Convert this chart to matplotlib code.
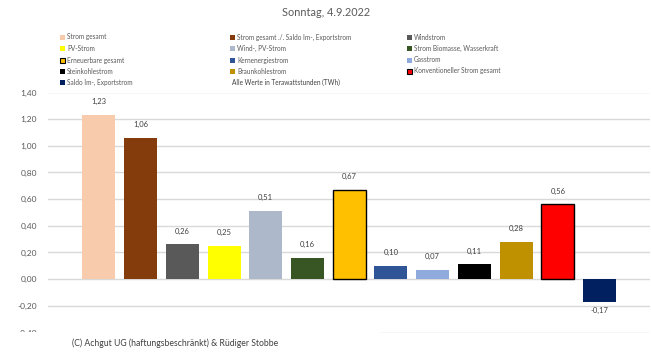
import matplotlib
matplotlib.use("Agg")
import matplotlib.pyplot as plt
from matplotlib.patches import Rectangle

plt.rcParams['font.family'] = ['Lato', 'DejaVu Sans']

categories = ["Strom gesamt", "Strom gesamt ./. Saldo Im-, Exportstrom", "Windstrom",
              "PV-Strom", "Wind-, PV-Strom", "Strom Biomasse, Wasserkraft",
              "Erneuerbare gesamt", "Kernenergiestrom", "Gasstrom",
              "Steinkohlestrom", "Braunkohlestrom", "Konventioneller Strom gesamt",
              "Saldo Im-, Exportstrom"]
values = [1.23, 1.06, 0.26, 0.25, 0.51, 0.16, 0.67, 0.10, 0.07, 0.11, 0.28, 0.56, -0.17]
colors = ["#F8CBAD", "#843C0C", "#595959", "#FFFF00", "#ADB9CA", "#375623",
          "#FFC000", "#2F5597", "#8FAADC", "#000000", "#BF9000", "#FF0000", "#002060"]
edged = {"Erneuerbare gesamt", "Konventioneller Strom gesamt"}
yticks = [-0.4, -0.2, 0.0, 0.2, 0.4, 0.6, 0.8, 1.0, 1.2, 1.4]
title = "Sonntag, 4.9.2022"
note = "Alle Werte in Terawattstunden (TWh)"
copyright_text = "(C) Achgut UG (haftungsbeschränkt) & Rüdiger Stobbe"

W, H = 651, 356
fig = plt.figure(figsize=(W / 100, H / 100), dpi=100)
fig.patch.set_facecolor("white")

def fx(px):
    return px / W

def fy(py):
    return 1 - py / H

ax = fig.add_axes([fx(48), fy(332.5), fx(650) - fx(48), fy(92.5) - fy(332.5)])
ax.set_ylim(-0.4, 1.4)
ax.set_xlim(-1.22, 13.21)
ax.set_yticks(yticks)
ax.set_yticklabels([f"{t:.2f}".replace(".", ",") for t in yticks], fontsize=6, color="#595959")
ax.tick_params(axis="y", length=0, pad=8)
ax.set_xticks([])
for s in ax.spines.values():
    s.set_visible(False)
ax.grid(axis="y", color="#D9D9D9", linewidth=1)
ax.set_axisbelow(True)

for i, (c, v, col) in enumerate(zip(categories, values, colors)):
    ec = "black" if c in edged else col
    lw = 1.0 if c in edged else 0
    ax.bar(i, v, width=0.79, color=col, edgecolor=ec, linewidth=lw, zorder=2)
    lab = f"{v:.2f}".replace(".", ",")
    if v >= 0:
        ax.annotate(lab, (i, v), xytext=(0, 7), textcoords="offset points",
                    ha="center", va="bottom", fontsize=5.5, color="#404040")
    else:
        ax.annotate(lab, (i, v), xytext=(0, -4), textcoords="offset points",
                    ha="center", va="top", fontsize=5.5, color="#404040")

fig.text(fx(326), fy(13), title, ha="center", va="center", fontsize=7.8, color="#595959")

col_x = [60, 230, 407]
row_y = [37, 48.5, 60, 71, 82]
for i, (c, col) in enumerate(zip(categories, colors)):
    r, k = divmod(i, 3)
    px, py = col_x[k], row_y[r]
    ec = "black" if c in edged else col
    fig.patches.append(Rectangle((fx(px), fy(py + 2.5)), fx(5), 5 / H,
                                 facecolor=col, edgecolor=ec,
                                 linewidth=0.8 if c in edged else 0,
                                 transform=fig.transFigure, figure=fig))
    fig.text(fx(px + 7), fy(py), c, ha="left", va="center", fontsize=4.7, color="#595959")
fig.text(fx(col_x[1] + 2), fy(row_y[4]), note, ha="left", va="center", fontsize=4.7, color="#404040")

fig.patches.append(Rectangle((0, 0), fx(380), fy(332), facecolor="white", edgecolor="none",
                             transform=fig.transFigure, figure=fig, zorder=5))
fig.text(fx(72), fy(343), copyright_text, ha="left", va="center", fontsize=6.2,
         color="#404040", zorder=6)

fig.savefig("out.png", dpi=100)
